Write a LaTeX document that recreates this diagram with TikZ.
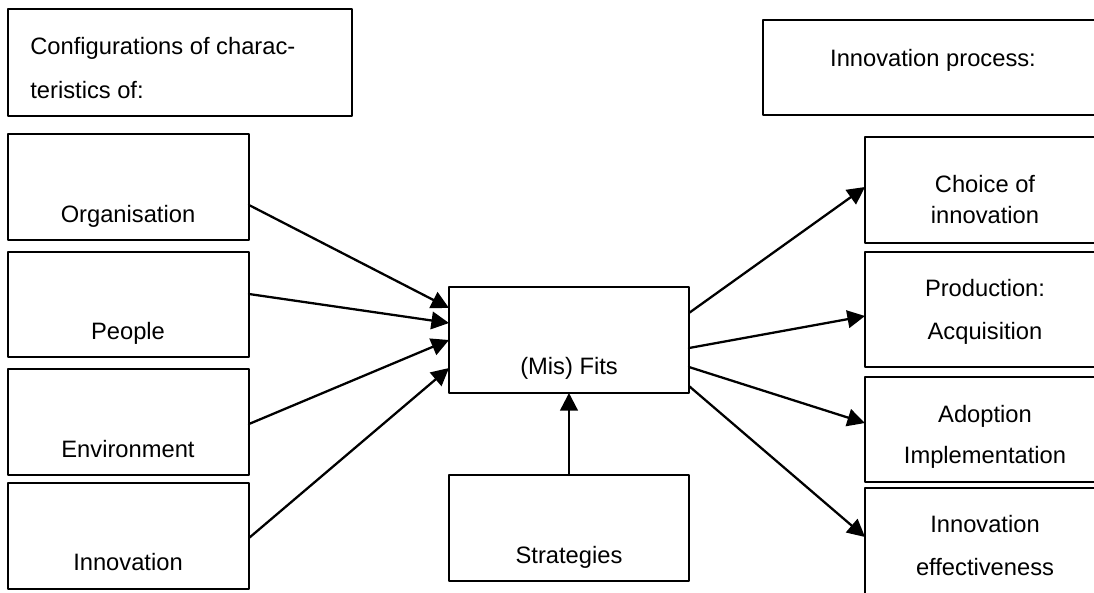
\documentclass[tikz,border=0pt]{standalone}
\usepackage{fontspec}
\setmainfont{Liberation Sans}
\usetikzlibrary{arrows.meta,calc}

\begin{document}
\begin{tikzpicture}[x=0.02cm, y=-0.02cm, line cap=round, line join=round,
    box/.style={draw, line width=1pt, inner sep=0pt, outer sep=0pt, anchor=north west},
    txt/.style={inner sep=0pt, anchor=base, align=center, font=\fontsize{13.5}{24}\selectfont},
    link/.style={line width=1.3pt, -{Triangle[length=10pt,width=10pt]}}]

    % page frame (drawing units are pixels)
    \useasboundingbox (0,0) rectangle (1094,592);
    \clip (0,0) rectangle (1094,592);

    % left column
    \node[box, minimum width=6.88cm, minimum height=2.14cm] (cfg) at (8,9) {};
    \node[box, minimum width=4.82cm, minimum height=2.12cm] (org) at (8,134) {};
    \node[box, minimum width=4.82cm, minimum height=2.10cm] (ppl) at (8,252) {};
    \node[box, minimum width=4.82cm, minimum height=2.12cm] (env) at (8,369) {};
    \node[box, minimum width=4.82cm, minimum height=2.12cm] (inn) at (8,483) {};

    % (multi-line texts sit on the baseline of their last line)
    \node[txt, anchor=base west, align=left, font=\fontsize{13.5}{25}\selectfont] (cfgtxt) at (30,98) {Configurations of charac-\\teristics of:};
    \node[txt] (orgtxt) at (128,222) {Organisation};
    \node[txt] (ppltxt) at (128,339) {People};
    \node[txt] (envtxt) at (128,457) {Environment};
    \node[txt] (inntxt) at (128,570) {Innovation};

    % middle
    \node[box, minimum width=4.80cm, minimum height=2.12cm] (fit) at (449,287) {};
    \node[box, minimum width=4.80cm, minimum height=2.12cm] (str) at (449,475) {};
    \node[txt] (fittxt) at (569,374) {(Mis) Fits};
    \node[txt] (strtxt) at (569,563) {Strategies};

    % right column
    \node[box, minimum width=6.80cm, minimum height=1.90cm] (prc) at (763,20) {};
    \node[box, minimum width=4.80cm, minimum height=2.12cm] (cho) at (865,137) {};
    \node[box, minimum width=4.80cm, minimum height=2.30cm] (pro) at (865,252) {};
    \node[box, minimum width=4.80cm, minimum height=2.10cm] (ado) at (865,377) {};
    \node[box, minimum width=4.80cm, minimum height=2.12cm] (eff) at (865,488) {};

    \node[txt] (prctxt) at (933,66) {Innovation process:};
    \node[txt, font=\fontsize{13.5}{17.6}\selectfont] (chotxt) at (985,223) {Choice of\\innovation};
    \node[txt] (protxt) at (985,339) {Production:\\Acquisition};
    \node[txt, font=\fontsize{13.5}{23.3}\selectfont] (adotxt) at (985,463) {Adoption\\Implementation};
    \node[txt] (efftxt) at (985,575) {Innovation\\effectiveness};

    % arrows into (mis) fits
    \draw[link] ($(org.north east)+(0,71)$) -- ($(fit.north west)+(0,21)$);
    \draw[link] ($(ppl.north east)+(0,42)$) -- ($(fit.north west)+(0,36)$);
    \draw[link] ($(env.north east)+(0,55)$) -- ($(fit.north west)+(0,53)$);
    \draw[link] ($(inn.north east)+(0,55)$) -- ($(fit.north west)+(0,81)$);
    \draw[link] (str.north) -- (fit.south);

    % arrows out of (mis) fits
    \draw[link] ($(fit.north east)+(0,26)$) -- ($(cho.north west)+(0,50)$);
    \draw[link] ($(fit.north east)+(0,61)$) -- ($(pro.north west)+(0,64)$);
    \draw[link] ($(fit.north east)+(0,80)$) -- ($(ado.north west)+(0,46)$);
    \draw[link] ($(fit.north east)+(0,99)$) -- ($(eff.north west)+(0,49)$);

\end{tikzpicture}
\end{document}
